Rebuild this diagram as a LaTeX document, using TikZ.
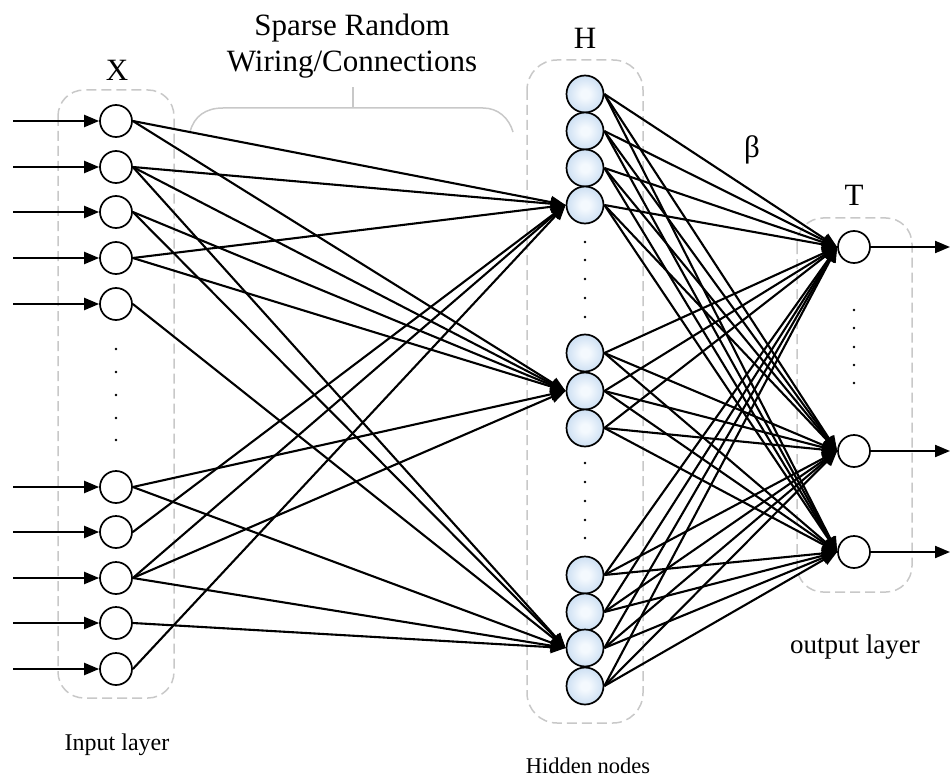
\documentclass[tikz,border=0pt]{standalone}
\usepackage{fontspec}
\setmainfont{Liberation Serif}
\usetikzlibrary{arrows.meta}
\definecolor{boxgray}{HTML}{C8C8C8}
\definecolor{hidedge}{HTML}{A2C3E6}
\definecolor{hidcore}{HTML}{F4F9FE}
\pgfdeclareradialshading{hidshade}{\pgfpoint{0bp}{0bp}}{%
  color(0bp)=(hidcore); color(6bp)=(hidcore); color(46bp)=(hidedge); color(50bp)=(hidedge)}
\begin{document}
\begin{tikzpicture}[x=1pt,y=-1pt,
  neuron/.style={circle,draw=black,line width=1.7pt,minimum size=32pt,inner sep=0pt,fill=white},
  hidden/.style={circle,draw=black,line width=1.7pt,minimum size=37pt,inner sep=0pt,shading=hidshade},
  group/.style={draw=boxgray,line width=1.5pt,dash pattern=on 10pt off 5pt,rounded corners=26pt},
  conn/.style={line width=2.1pt,-{Triangle[length=15pt,width=12pt]}},
  dotmark/.style={circle,fill=black,inner sep=0pt,minimum size=2.8pt},
  biglabel/.style={font=\fontsize{31}{36}\selectfont,inner sep=0pt}]
\useasboundingbox (0,0) rectangle (950,778);

% layer frames
\draw[group] (58,90) rectangle (174,698);
\draw[group,rounded corners=30pt] (527,60) rectangle (643,723);
\draw[group] (797,218) rectangle (912,592);

% brace over the random wiring
\draw[boxgray,line width=1.5pt] (190,132) .. controls (194,116) and (206,108) .. (223,108)
  -- (483,108) .. controls (498,108) and (509,118) .. (513,132);
\draw[boxgray,line width=1.5pt] (353,108) -- (353,87);

% input neurons with their incoming arrows
\foreach \y [count=\i] in {121,167,212,258,304,487,532,578,623,669} {
  \node[neuron] (i\i) at (116,\y) {};
  \coordinate (src\i) at (13,\y);
  \draw[conn] (src\i) -- (i\i.west);
}
% hidden neurons
\foreach \y [count=\i] in {94,131,168,205,353,391,428,575,612,648,686} {
  \node[hidden] (h\i) at (585,\y) {};
}
% output neurons with outgoing arrows
\foreach \y [count=\i] in {247,451,552} {
  \node[neuron] (o\i) at (854,\y) {};
  \coordinate (dst\i) at (950,\y);
  \draw[conn] (o\i.east) -- (dst\i);
}

% ellipsis dots
\foreach \y [count=\k] in {349,372,395,418,440} \node[dotmark] (din\k) at (116,\y) {};
\foreach \y [count=\k] in {242,260,279,298,317} \node[dotmark] (dha\k) at (585,\y) {};
\foreach \y [count=\k] in {463,482,501,520,538} \node[dotmark] (dhb\k) at (585,\y) {};
\foreach \y [count=\k] in {310,328,347,365,383} \node[dotmark] (dout\k) at (854,\y) {};

% sparse random input-to-hidden wiring
\foreach \a/\b in {1/4,1/6,2/4,2/6,2/10,3/6,3/10,4/4,4/6,5/10,6/6,6/10,7/4,8/4,8/6,8/10,9/10,10/4}
  \draw[conn] (i\a.east) -- (h\b.west);

% full hidden-to-output weights
\foreach \a in {1,...,11}
  \foreach \b in {1,2,3}
    \draw[conn] (h\a.east) -- (o\b.west);

% labels
\node[biglabel] (lx) at (117,70) {X};
\node[biglabel] (lh) at (585,38) {H};
\node[biglabel] (lt) at (854,195) {T};
\node[biglabel] (lb) at (752,150) {β};
\node[biglabel,align=center] (lw) at (352,46) {Sparse Random\\Wiring/Connections};
\node[font=\fontsize{24}{28}\selectfont,inner sep=0pt] (lin) at (117,745) {Input layer};
\node[font=\fontsize{22.5}{26}\selectfont,inner sep=0pt] (lhid) at (588,766) {Hidden nodes};
\node[font=\fontsize{27}{31}\selectfont,inner sep=0pt] (lout) at (855,647) {output layer};
\end{tikzpicture}
\end{document}
